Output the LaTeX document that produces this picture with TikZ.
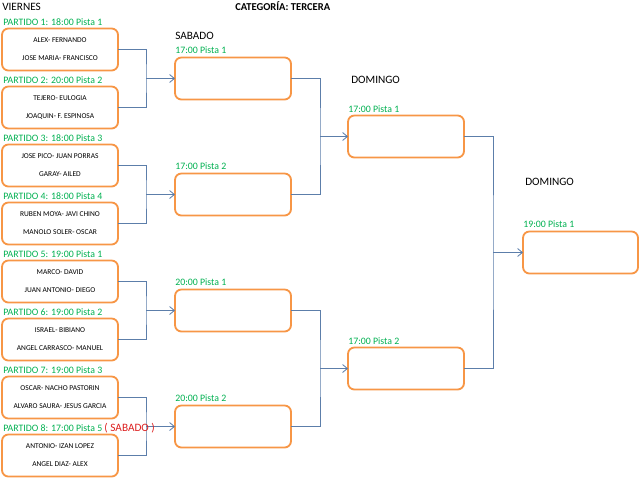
\documentclass[tikz,border=0pt]{standalone}
\usepackage{fontspec}
\setmainfont{Carlito}
\usepackage{xcolor}
\usepackage{tikz}
\usetikzlibrary{positioning,arrows.meta}
\definecolor{boxorange}{RGB}{247,150,70}
\definecolor{wireblue}{RGB}{92,126,170}
\definecolor{slotgreen}{RGB}{0,176,80}
\definecolor{notered}{RGB}{220,30,30}

\begin{document}
\begin{tikzpicture}[
x=0.25mm,y=-0.25mm,
node distance=4mm,
match/.style={draw=boxorange,line width=1.3pt,rounded corners=1.6mm,minimum width=29mm,minimum height=10.5mm,align=center,inner sep=0pt,outer sep=0pt,font=\fontsize{5.3}{12.8}\selectfont},
slot/.style={anchor=base west,inner sep=0pt,text=slotgreen,font=\fontsize{7}{8}\selectfont},
day/.style={anchor=base west,inner sep=0pt,font=\fontsize{8}{9}\selectfont},
wire/.style={draw=wireblue,line width=0.6pt},
>={Straight Barb[length=1.2mm,width=2mm]}
]
\useasboundingbox (0,0) rectangle (640,480);

\node[day] (vie) at (2,11) {VIERNES};
\node[day,font=\fontsize{7.5}{9}\selectfont\bfseries] (cat) at (235,11) {CATEGORÍA: TERCERA};
\node[day] (sab) at (175,39) {SABADO};
\node[day] (dom1) at (351,83) {DOMINGO};
\node[day] (dom2) at (525,185) {DOMINGO};

% viernes
\node[match] (p1) at (60,49.5) {ALEX- FERNANDO\\JOSE MARIA- FRANCISCO};
\node[match,below=of p1] (p2) {TEJERO- EULOGIA\\JOAQUIN- F. ESPINOSA};
\node[match,below=of p2] (p3) {JOSE PICO- JUAN PORRAS\\GARAY- AILED};
\node[match,below=of p3] (p4) {RUBEN MOYA- JAVI CHINO\\MANOLO SOLER- OSCAR};
\node[match,below=of p4] (p5) {MARCO- DAVID\\JUAN ANTONIO- DIEGO};
\node[match,below=of p5] (p6) {ISRAEL- BIBIANO\\ANGEL CARRASCO- MANUEL};
\node[match,below=of p6] (p7) {OSCAR- NACHO PASTORIN\\ALVARO SAURA- JESUS GARCIA};
\node[match,below=of p7] (p8) {ANTONIO- IZAN LOPEZ\\ANGEL DIAZ- ALEX};

\node[slot] (lp1) at ([xshift=0.25mm,yshift=0.75mm]p1.north west) {PARTIDO 1: 18:00 Pista 1};
\node[slot] (lp2) at ([xshift=0.25mm,yshift=0.75mm]p2.north west) {PARTIDO 2: 20:00 Pista 2};
\node[slot] (lp3) at ([xshift=0.25mm,yshift=0.75mm]p3.north west) {PARTIDO 3: 18:00 Pista 3};
\node[slot] (lp4) at ([xshift=0.25mm,yshift=0.75mm]p4.north west) {PARTIDO 4: 18:00 Pista 4};
\node[slot] (lp5) at ([xshift=0.25mm,yshift=0.75mm]p5.north west) {PARTIDO 5: 19:00 Pista 1};
\node[slot] (lp6) at ([xshift=0.25mm,yshift=0.75mm]p6.north west) {PARTIDO 6: 19:00 Pista 2};
\node[slot] (lp7) at ([xshift=0.25mm,yshift=0.75mm]p7.north west) {PARTIDO 7: 19:00 Pista 3};

% sabado
\node[match] (s1) at (233,78.5) {};
\node[match] (s2) at (233,194.5) {};
\node[match] (s3) at (233,310.5) {};
\node[match] (s4) at (233,426.5) {};

\node[slot] (ls1) at ([yshift=0.9mm]s1.north west) {17:00 Pista 1};
\node[slot] (ls2) at ([yshift=0.9mm]s2.north west) {17:00 Pista 2};
\node[slot] (ls3) at ([yshift=0.9mm]s3.north west) {20:00 Pista 1};
\node[slot] (ls4) at ([yshift=0.9mm]s4.north west) {20:00 Pista 2};

% domingo
\node[match] (d1) at (406,136.5) {};
\node[match] (d2) at (406,368.5) {};
\node[match,minimum width=28.75mm] (fin) at (580.5,252.5) {};

\node[slot] (ld1) at ([yshift=0.75mm]d1.north west) {17:00 Pista 1};
\node[slot] (ld2) at ([yshift=0.75mm]d2.north west) {17:00 Pista 2};
\node[slot] (lfin) at ([yshift=0.9mm]fin.north west) {19:00 Pista 1};

% cuadro
\coordinate (j1) at ([xshift=-7.25mm]s1.west);
\coordinate (j2) at ([xshift=-7.25mm]s2.west);
\coordinate (j3) at ([xshift=-7.25mm]s3.west);
\coordinate (j4) at ([xshift=-7.25mm]s4.west);
\coordinate (k1) at ([xshift=-7mm]d1.west);
\coordinate (k2) at ([xshift=-7mm]d2.west);
\coordinate (m1) at ([xshift=-7.5mm]fin.west);

\draw[wire] (p1.east) -| (j1) |- (p2.east);
\draw[wire] (p3.east) -| (j2) |- (p4.east);
\draw[wire] (p5.east) -| (j3) |- (p6.east);
\draw[wire] (p7.east) -| (j4) |- (p8.east);
\draw[wire] (s1.east) -| (k1) |- (s2.east);
\draw[wire] (s3.east) -| (k2) |- (s4.east);
\draw[wire] (d1.east) -| (m1) |- (d2.east);

\draw[wire,->] (j1) -- (s1.west);
\draw[wire,->] (j2) -- (s2.west);
\draw[wire,->] (j3) -- (s3.west);
\draw[wire,->] (j4) -- (s4.west);
\draw[wire,->] (k1) -- (d1.west);
\draw[wire,->] (k2) -- (d2.west);
\draw[wire,->] (m1) -- (fin.west);

\node[slot] (lp8) at ([xshift=0.25mm,yshift=0.75mm]p8.north west) {PARTIDO 8: 17:00 Pista 5 \textcolor{notered}{\fontsize{8}{9}\selectfont( SABADO )}};
\end{tikzpicture}
\end{document}
